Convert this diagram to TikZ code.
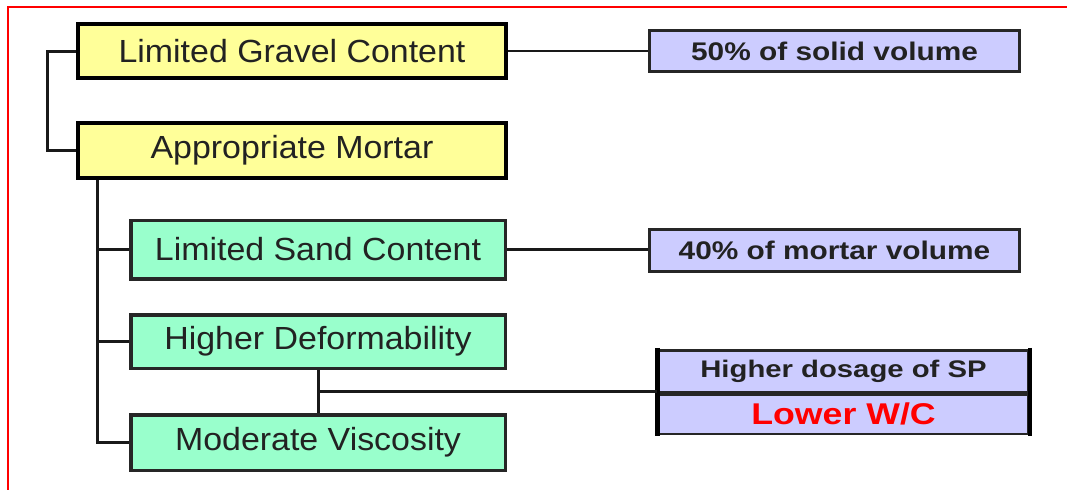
\documentclass[tikz,border=0pt]{standalone}
\usepackage{fontspec}
\setmainfont{Liberation Sans}
\usetikzlibrary{calc}
\definecolor{ybox}{HTML}{FFFF99}
\definecolor{gbox}{HTML}{99FFCC}
\definecolor{pbox}{HTML}{CCCCFF}
\definecolor{txt}{HTML}{222222}
\definecolor{frame}{HTML}{FF0000}
\newcommand{\sxt}[2]{\scalebox{#1}[1]{#2}}
\tikzset{
  ynode/.style={draw=black, fill=ybox, line width=4pt, inner sep=0pt, text=txt,
    minimum width=428pt, font=\fontsize{32}{36}\selectfont},
  gnode/.style={draw=black!85, fill=gbox, line width=3.5pt, inner sep=0pt, text=txt,
    minimum width=374.5pt, font=\fontsize{32}{36}\selectfont},
  pnode/.style={draw=black!85, fill=pbox, line width=3pt, inner sep=0pt, text=txt,
    minimum width=370pt, font=\bfseries\fontsize{25.5}{30}\selectfont},
  qnode/.style={draw=black!85, fill=pbox, line width=2.5pt, inner sep=0pt, text=txt,
    minimum width=370pt},
  conn/.style={draw=black!90, line width=3pt},
  thin conn/.style={draw=black!90, line width=2.5pt},
  redframe/.style={draw=frame, line width=2pt}
}
\begin{document}
\begin{tikzpicture}[x={(1pt,0pt)}, y={(0pt,-1pt)}]
\useasboundingbox (0,0) rectangle (1067,490);
% red frame (top and left)
\draw[redframe] (1067,6.5) -- (8,6.5) -- (8,490);

% yellow boxes
\node[ynode, minimum height=54pt] (y1) at (292,51) {\sxt{1.06}{Limited Gravel Content}};
\node[ynode, minimum height=55pt] (y2) at (292,150.5) {\sxt{1.06}{Appropriate Mortar}};

% green boxes
\node[gnode, minimum height=58.5pt] (g1) at (318,249.5) {\sxt{1.06}{Limited Sand Content}};
\node[gnode, minimum height=53.5pt] (g2) at (318,341.5) {\sxt{1.06}{Higher Deformability}};
\node[gnode, minimum height=55.5pt] (g3) at (318,442.5) {\sxt{1.06}{Moderate Viscosity}};

% purple boxes
\node[pnode, minimum height=41pt] (p1) at (834.5,51) {\sxt{1.17}{50\% of solid volume}};
\node[pnode, minimum height=42pt] (p2) at (834.5,250.5) {\sxt{1.17}{40\% of mortar volume}};

% combined box
\node[qnode, minimum height=41.5pt, font=\bfseries\fontsize{24}{28}\selectfont] (b3) at (843.5,371) {\sxt{1.22}{Higher dosage of SP}};
\node[qnode, minimum height=39.5pt, text=red, font=\bfseries\fontsize{30}{34}\selectfont] (b4) at (843.5,414) {\sxt{1.19}{Lower W/C}};
\draw[draw=black, line width=4.5pt] ([yshift=1.25pt]b3.north west) -- ([yshift=-1.25pt]b4.south west);
\draw[draw=black, line width=4.5pt] ([yshift=1.25pt]b3.north east) -- ([yshift=-1.25pt]b4.south east);

% connectors
\draw[conn] (y1.west) -- ++(-29,0) |- (y2.west);
\draw[thin conn] (y1.east) -- (y1.east -| p1.west);
\draw[thin conn] (g1.east) -- (g1.east -| p2.west);

\coordinate (t) at ([xshift=21pt]y2.south west);
\draw[conn] (t) |- (g3.west);
\draw[conn] (g1.west) -- (g1.west -| t);
\draw[conn] (g2.west) -- (g2.west -| t);

\draw[conn] (g2.south) -- (g3.north);
\coordinate (m) at ($(g2.south)!0.5!(g3.north)$);
\draw[thin conn] (m) -- (m -| b3.west);
\end{tikzpicture}
\end{document}
